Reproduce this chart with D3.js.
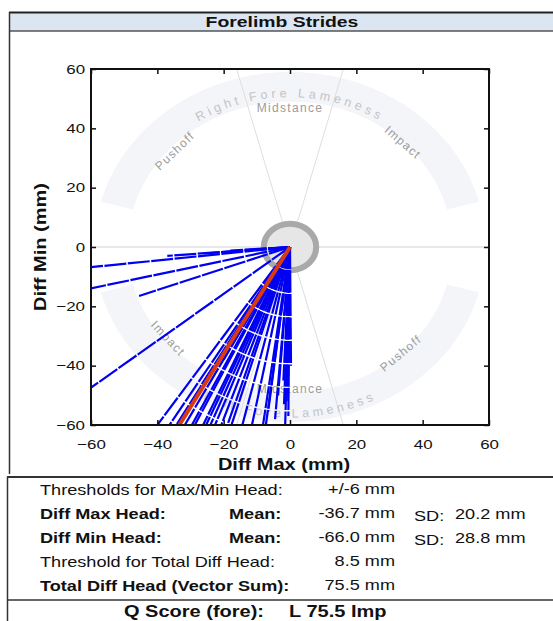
<!DOCTYPE html>
<html>
<head>
<meta charset="utf-8">
<script src="https://cdn.jsdelivr.net/npm/d3@7"></script>
<style>
  body { margin: 0; background: #fff; }
  text { font-family: "Liberation Sans", Arial, sans-serif; }
</style>
</head>
<body>
<div id="chart"></div>
<script>
// stride vectors, one per stride (mm)
const diffMax = [-75, -68, -45.5, -37, -26, -62, -18,
    -46, -43, -40, -37, -35, -33, -31, -29.5, -28, -26, -24.5, -22, -20, -17, -13, -9.5, -8,
    -6.6, -3.6, -1.8, -1, -2, 0.3, -0.5, -4.5, -1.5, -27, -20];
const diffMin = [-8.5, -15.8, -16.5, -3, -2.2, -49, -1.2,
    -69, -71, -70, -70, -71, -69, -71, -70, -70, -69, -71, -70, -68, -71, -68, -70, -66,
    -55.5, -50, -53, -52, -45, -40, -57, -58, -62, -47, -38];
const meanMax = -36.7;
const meanMin = -66.0;
const thresholdTotal = 8.5;
const ticks = [-60, -40, -20, 0, 20, 40, 60];

// summary table
const rowLabels = ["Thresholds for Max/Min Head:", "Diff Max Head:", "Diff Min Head:",
    "Threshold for Total Diff Head:", "Total Diff Head (Vector Sum):"];
const rowBold = [false, true, true, false, true];
const rowMean = ["", "Mean:", "Mean:", "", ""];
const rowValues = ["+/-6 mm", "-36.7 mm", "-66.0 mm", "8.5 mm", "75.5 mm"];
const rowSD = ["", "20.2 mm", "28.8 mm", "", ""];
const qLabel = "Q Score (fore):";
const qValue = "L 75.5 Imp";

const W = 553, H = 621;
const K = 1.25; // wide glyphs of the original font
const plot = {left: 91, right: 489, top: 69, bottom: 425};

const x = d3.scaleLinear().domain([-60, 60]).range([plot.left, plot.right]);
const y = d3.scaleLinear().domain([-60, 60]).range([plot.bottom, plot.top]);
const sx = x(1) - x(0), sy = y(0) - y(1);

const svg = d3.select("#chart").append("svg")
    .attr("width", W)
    .attr("height", H);

function addText(sel, str, px, py, opt) {
    opt = opt || {};
    return sel.append("text")
        .attr("transform", "translate(" + px + "," + py + ")" +
            (opt.rotate ? " rotate(" + opt.rotate + ")" : "") + " scale(" + K + ",1)")
        .attr("text-anchor", opt.anchor || "start")
        .attr("dominant-baseline", opt.baseline || "auto")
        .attr("font-size", opt.size || 14.5)
        .attr("font-weight", opt.bold ? "bold" : "normal")
        .attr("letter-spacing", opt.spacing || 0)
        .attr("fill", opt.color || "#111")
        .text(str);
}

function arcPoints(r, a0, a1) {
    let n = 120;
    return d3.range(n + 1).map(function (i) {
        let a = (a0 + (a1 - a0) * i / n) * Math.PI / 180;
        return [x(r * Math.cos(a)), y(r * Math.sin(a))];
    });
}

// panel frame + title bar
svg.append("rect").attr("x", 9).attr("y", 12).attr("width", W).attr("height", 19)
    .attr("fill", "#dce6f2");
svg.append("line").attr("x1", 9).attr("x2", W).attr("y1", 12.5).attr("y2", 12.5)
    .attr("stroke", "#222").attr("stroke-width", 2);
svg.append("line").attr("x1", 9).attr("x2", W).attr("y1", 31).attr("y2", 31)
    .attr("stroke", "#555").attr("stroke-width", 1.5);
svg.append("line").attr("x1", 9.5).attr("x2", 9.5).attr("y1", 12).attr("y2", 474)
    .attr("stroke", "#333").attr("stroke-width", 1.5);
addText(svg, "Forelimb Strides", 282, 27, {anchor: "middle", bold: true, size: 15.5});

// plot content
svg.append("clipPath").attr("id", "clip").append("rect")
    .attr("x", plot.left).attr("y", plot.top)
    .attr("width", plot.right - plot.left).attr("height", plot.bottom - plot.top);

let g = svg.append("g").attr("clip-path", "url(#clip)");

// lameness bands
[[15, 165], [195, 345]].forEach(function (b) {
    let pts = arcPoints(59, b[0], b[1]).concat(arcPoints(49, b[1], b[0]));
    g.append("path").attr("d", d3.line()(pts) + "Z").attr("fill", "#f3f5f9");
});

// zero line and sector dividers
g.append("line").attr("x1", x(-60)).attr("x2", x(60)).attr("y1", y(0)).attr("y2", y(0))
    .attr("stroke", "#d2d2d2").attr("stroke-width", 1.2);
[75, 105].forEach(function (a) {
    let r = a * Math.PI / 180;
    g.append("line")
        .attr("x1", x(-90 * Math.cos(r))).attr("y1", y(-90 * Math.sin(r)))
        .attr("x2", x(90 * Math.cos(r))).attr("y2", y(90 * Math.sin(r)))
        .attr("stroke", "#dedede").attr("stroke-width", 1);
});

// band captions along the arcs
let defs = svg.append("defs");
defs.append("path").attr("id", "arcTop").attr("d", d3.line()(arcPoints(50.5, 180, 0)));
defs.append("path").attr("id", "arcBot").attr("d", d3.line()(arcPoints(57.5, 180, 360)));
[["arcTop", "Right Fore Lameness"], ["arcBot", "Left Fore Lameness"]].forEach(function (c) {
    g.append("text")
        .attr("font-size", 12.5)
        .attr("letter-spacing", 3.8)
        .attr("fill", "#c4c4c4")
        .append("textPath")
        .attr("href", "#" + c[0])
        .attr("startOffset", "50%")
        .attr("text-anchor", "middle")
        .text(c[1]);
});

// phase labels
const phaseLabels = [
    {text: "Midstance", angle: 90, r: 47}, {text: "Pushoff", angle: 137, r: 47.5},
    {text: "Impact", angle: 46, r: 49}, {text: "Midstance", angle: 270, r: 48},
    {text: "Impact", angle: 220, r: 48}, {text: "Pushoff", angle: 313, r: 49}
];
phaseLabels.forEach(function (p) {
    let a = p.angle * Math.PI / 180;
    let rot = p.angle < 180
        ? Math.atan2(sy * Math.cos(a), sx * Math.sin(a))
        : Math.atan2(-sy * Math.cos(a), -sx * Math.sin(a));
    g.append("text")
        .attr("transform", "translate(" + x(p.r * Math.cos(a)) + "," + y(p.r * Math.sin(a)) +
            ") rotate(" + (rot * 180 / Math.PI) + ")")
        .attr("text-anchor", "middle")
        .attr("dominant-baseline", "central")
        .attr("font-size", 12)
        .attr("letter-spacing", 1.3)
        .attr("fill", "#9c9c9c")
        .text(p.text);
});

// threshold ring
g.append("ellipse")
    .attr("cx", x(0)).attr("cy", y(0))
    .attr("rx", thresholdTotal * sx - 2).attr("ry", thresholdTotal * sy - 2)
    .attr("fill", "#e6e6e6").attr("stroke", "#a9a9a9").attr("stroke-width", 6);

// strides
g.selectAll(".stride").data(diffMax)
    .enter().append("line")
    .attr("class", "stride")
    .attr("x1", x(0)).attr("y1", y(0))
    .attr("x2", function (d) { return x(d); })
    .attr("y2", function (d, i) { return y(diffMin[i]); })
    .attr("stroke", "#0000f2")
    .attr("stroke-width", 2.2)
    .attr("stroke-dasharray", "22,1.5");

// mean vector
g.append("line")
    .attr("x1", x(0)).attr("y1", y(0))
    .attr("x2", x(meanMax)).attr("y2", y(meanMin))
    .attr("stroke", "#d93a12").attr("stroke-width", 4);

// axes (inward ticks on every side)
let axB = svg.append("g").attr("transform", "translate(0," + plot.bottom + ")")
    .call(d3.axisBottom(x).tickValues(ticks).tickSizeInner(-5).tickSizeOuter(0).tickPadding(14));
let axT = svg.append("g").attr("transform", "translate(0," + plot.top + ")")
    .call(d3.axisTop(x).tickValues(ticks).tickSizeInner(-5).tickSizeOuter(0).tickFormat(""));
let axL = svg.append("g").attr("transform", "translate(" + plot.left + ",0)")
    .call(d3.axisLeft(y).tickValues(ticks).tickSizeInner(-5).tickSizeOuter(0).tickPadding(12));
let axR = svg.append("g").attr("transform", "translate(" + plot.right + ",0)")
    .call(d3.axisRight(y).tickValues(ticks).tickSizeInner(-5).tickSizeOuter(0).tickFormat(""));

[axB, axT, axL, axR].forEach(function (a) {
    a.select(".domain").remove();
    a.selectAll("line").attr("stroke", "#111").attr("stroke-width", 1.5);
});
axB.selectAll("text")
    .attr("font-family", "Liberation Sans, Arial, sans-serif")
    .attr("font-size", 13.5).attr("fill", "#111")
    .attr("transform", "scale(" + K + ",1)");
axL.selectAll("text")
    .attr("font-family", "Liberation Sans, Arial, sans-serif")
    .attr("font-size", 13.5).attr("fill", "#111")
    .attr("x", -6 / K)
    .attr("transform", "scale(" + K + ",1)");

svg.append("rect")
    .attr("x", plot.left).attr("y", plot.top)
    .attr("width", plot.right - plot.left).attr("height", plot.bottom - plot.top)
    .attr("fill", "none").attr("stroke", "#111").attr("stroke-width", 2);

addText(svg, "Diff Max (mm)", (plot.left + plot.right) / 2 - 6, 470, {anchor: "middle", bold: true, size: 16});
addText(svg, "Diff Min (mm)", 46, (plot.top + plot.bottom) / 2, {anchor: "middle", bold: true, size: 16, rotate: -90});

// summary table
svg.append("line").attr("x1", 7).attr("x2", W).attr("y1", 477).attr("y2", 477)
    .attr("stroke", "#333").attr("stroke-width", 2);
svg.append("line").attr("x1", 7.5).attr("x2", 7.5).attr("y1", 477).attr("y2", H)
    .attr("stroke", "#333").attr("stroke-width", 1.5);
svg.append("line").attr("x1", 7).attr("x2", W).attr("y1", 600).attr("y2", 600)
    .attr("stroke", "#333").attr("stroke-width", 1.5);

rowLabels.forEach(function (lab, i) {
    let by = 495 + i * 24;
    addText(svg, lab, 40, by, {bold: rowBold[i]});
    if (rowMean[i]) addText(svg, rowMean[i], 229, by, {bold: true});
    addText(svg, rowValues[i], 395, by - 1, {anchor: "end"});
    if (rowSD[i]) {
        addText(svg, "SD:", 414, by + 2);
        addText(svg, rowSD[i], 455, by);
    }
});
addText(svg, qLabel, 124, 617, {bold: true, size: 16});
addText(svg, qValue, 289, 617, {bold: true, size: 16});
</script>
</body>
</html>
